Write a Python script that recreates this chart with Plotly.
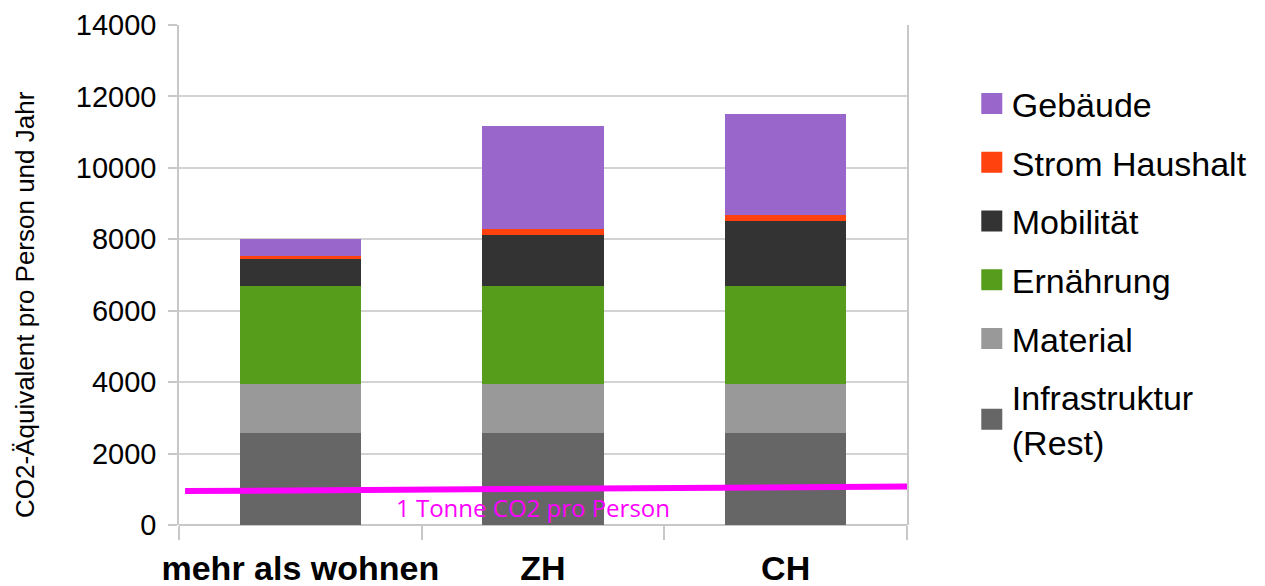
import plotly.graph_objects as go

categories = ["mehr als wohnen", "ZH", "CH"]
series_names = ["Infrastruktur<br>(Rest)", "Material", "Ernährung", "Mobilität", "Strom Haushalt", "Gebäude"]
infrastruktur = [2580, 2580, 2580]
material = [1375, 1375, 1375]
ernaehrung = [2740, 2740, 2740]
mobilitaet = [745, 1435, 1830]
strom = [105, 160, 150]
gebaeude = [455, 2880, 2830]
series_values = [infrastruktur, material, ernaehrung, mobilitaet, strom, gebaeude]
colors = ["#666666", "#999999", "#579d1c", "#333333", "#ff420e", "#9966cc"]

line_x = [-0.475, 2.5]
line_y = [950, 1075]
line_label = "1 Tonne CO2 pro Person"
y_ticks = [0, 2000, 4000, 6000, 8000, 10000, 12000, 14000]
y_ticktext = [str(v) for v in y_ticks]
y_title = "CO2-Äquivalent pro Person und Jahr"

fig = go.Figure()
for name, vals, col in zip(series_names, series_values, colors):
    fig.add_trace(go.Bar(
        x=categories, y=vals, name=name, width=0.5,
        marker=dict(color=col, line=dict(width=0)),
        showlegend=False,
    ))

fig.add_trace(go.Scatter(
    x=line_x, y=line_y, mode="lines", xaxis="x2",
    line=dict(color="#ff00ff", width=6), showlegend=False, hoverinfo="skip",
))

# legend entries (large squares), top to bottom
order = list(range(len(series_names)))[::-1]
for k, i in enumerate(order):
    fig.add_trace(go.Scatter(
        x=[None], y=[None], mode="markers", name=series_names[i],
        marker=dict(symbol="square", size=16, color=colors[i], line=dict(color=colors[i], width=5)),
        legendgroup=f"g{k}",
    ))

fig.add_annotation(
    x=0.96, y=480, xref="x", yref="y", text=line_label, showarrow=False,
    font=dict(family="Open Sans", size=24, color="#ff00ff"),
)

# y-axis title
fig.add_annotation(
    x=0, xref="paper", xshift=-154, y=0.44, yref="paper", text=y_title,
    textangle=-90, showarrow=False, xanchor="center", yanchor="middle",
    font=dict(family="Liberation Sans", size=26, color="black"),
)

fig.update_layout(
    width=1265, height=586,
    margin=dict(l=179, r=358, t=25, b=61),
    barmode="stack",
    plot_bgcolor="white", paper_bgcolor="white",
    font=dict(family="Liberation Sans", color="black"),
    legend=dict(
        x=1.089, xanchor="left", y=0.90, yanchor="top",
        traceorder="grouped", tracegroupgap=11.5,
        font=dict(family="Liberation Sans", size=34, color="black"),
        itemsizing="trace",
    ),
    xaxis=dict(
        type="category", range=[-0.5, 2.5], tickson="boundaries",
        ticks="outside", ticklen=14, tickcolor="#c8c8c8", tickwidth=1.5,
        showgrid=False, showline=False, tickangle=0, automargin=False,
        ticklabelstandoff=20,
        tickfont=dict(family="Liberation Sans", size=34, color="black", weight="bold"),
    ),
    xaxis2=dict(
        overlaying="x", range=[-0.5, 2.5], visible=False, showgrid=False,
        zeroline=False, automargin=False,
    ),
    yaxis=dict(
        range=[0, 14000], tickvals=y_ticks, ticktext=y_ticktext, ticks="outside", ticklen=9,
        tickcolor="#c8c8c8", tickwidth=1.5, automargin=False,
        showgrid=True, gridcolor="#d3d3d3", gridwidth=1.5,
        zeroline=True, zerolinecolor="#c8c8c8", zerolinewidth=1.5,
        showline=True, linecolor="#c8c8c8", linewidth=1.5, mirror=True,
        tickfont=dict(family="Liberation Sans", size=29, color="black"),
        ticklabelstandoff=6,
    ),
)

fig.write_html("out.html")
